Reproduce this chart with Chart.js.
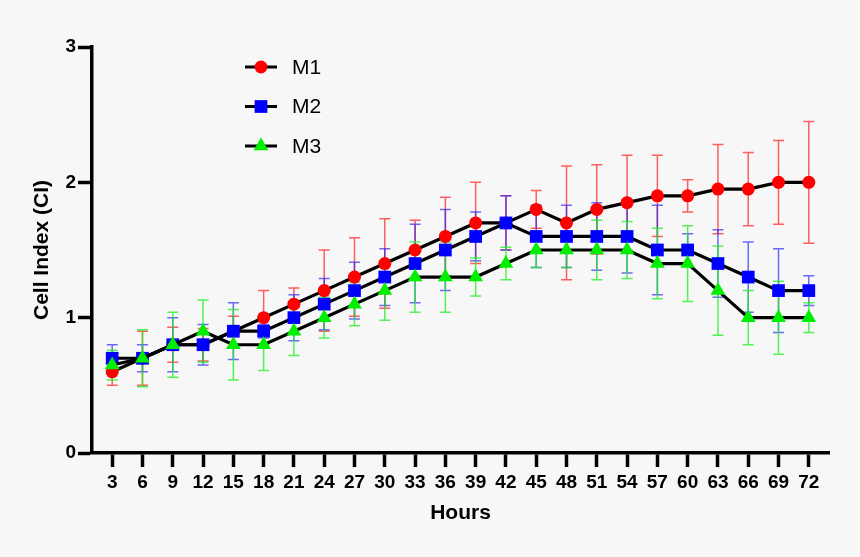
<!DOCTYPE html>
<html>
<head>
<meta charset="utf-8">
<script src="https://cdn.jsdelivr.net/npm/chart.js@4.4.1/dist/chart.umd.min.js"></script>
<style>
  html, body { margin: 0; padding: 0; background: #f7f7f7; }
  #wrap { width: 860px; height: 557px; }
</style>
</head>
<body>
<div id="wrap"><canvas id="ci-chart"></canvas></div>
<script>
// Cell index over time, three groups, mean +/- SD
const hours = [3, 6, 9, 12, 15, 18, 21, 24, 27, 30, 33, 36, 39, 42, 45, 48, 51, 54, 57, 60, 63, 66, 69, 72];

const m1Mean = [0.6, 0.7, 0.8, 0.8, 0.9, 1.0, 1.1, 1.2, 1.3, 1.4, 1.5, 1.6, 1.7, 1.7, 1.8, 1.7, 1.8, 1.85, 1.9, 1.9, 1.95, 1.95, 2.0, 2.0];
const m1Sd   = [0.1, 0.2, 0.13, 0.12, 0.11, 0.2, 0.12, 0.3, 0.29, 0.33, 0.22, 0.29, 0.3, 0.2, 0.14, 0.42, 0.33, 0.35, 0.3, 0.12, 0.33, 0.27, 0.31, 0.45];

const m2Mean = [0.7, 0.7, 0.8, 0.8, 0.9, 0.9, 1.0, 1.1, 1.2, 1.3, 1.4, 1.5, 1.6, 1.7, 1.6, 1.6, 1.6, 1.6, 1.5, 1.5, 1.4, 1.3, 1.2, 1.2];
const m2Sd   = [0.1, 0.1, 0.2, 0.15, 0.21, 0.05, 0.17, 0.19, 0.21, 0.21, 0.29, 0.3, 0.18, 0.2, 0.23, 0.23, 0.25, 0.27, 0.33, 0.12, 0.25, 0.26, 0.31, 0.11];

const m3Mean = [0.65, 0.7, 0.8, 0.9, 0.8, 0.8, 0.9, 1.0, 1.1, 1.2, 1.3, 1.3, 1.3, 1.4, 1.5, 1.5, 1.5, 1.5, 1.4, 1.4, 1.2, 1.0, 1.0, 1.0];
const m3Sd   = [0.11, 0.21, 0.24, 0.23, 0.26, 0.19, 0.18, 0.15, 0.16, 0.22, 0.26, 0.26, 0.14, 0.12, 0.13, 0.13, 0.22, 0.21, 0.26, 0.28, 0.33, 0.2, 0.27, 0.11];

const yTicks = [0, 1, 2, 3];

const FONT = "'Liberation Sans', Arial, Helvetica, sans-serif";

const groups = [
  { label: 'M1', mean: m1Mean, sd: m1Sd, color: '#ff0000', bar: 'rgba(255,30,30,0.7)',  style: 'circle',   radius: 6.5, order: 3 },
  { label: 'M2', mean: m2Mean, sd: m2Sd, color: '#0000ff', bar: 'rgba(30,30,255,0.65)', style: 'rect',     radius: 9,   order: 2 },
  { label: 'M3', mean: m3Mean, sd: m3Sd, color: '#00ee00', bar: 'rgba(30,240,30,0.75)', style: 'triangle', radius: 8.5, order: 1 },
];

// error bars, drawn under the lines and markers
const errorBars = {
  id: 'errorBars',
  beforeDatasetsDraw(chart) {
    const { ctx, scales: { x, y } } = chart;
    ctx.save();
    ctx.lineWidth = 1.5;
    groups.forEach(g => {
      ctx.strokeStyle = g.bar;
      hours.forEach((h, i) => {
        const px = x.getPixelForValue(h);
        const top = y.getPixelForValue(g.mean[i] + g.sd[i]);
        const bot = y.getPixelForValue(g.mean[i] - g.sd[i]);
        ctx.beginPath();
        ctx.moveTo(px, top); ctx.lineTo(px, bot);
        ctx.moveTo(px - 5.5, top); ctx.lineTo(px + 5.5, top);
        ctx.moveTo(px - 5.5, bot); ctx.lineTo(px + 5.5, bot);
        ctx.stroke();
      });
    });
    ctx.restore();
  },
};

function marker(ctx, style, cx, cy, r) {
  ctx.beginPath();
  if (style === 'circle') {
    ctx.arc(cx, cy, r, 0, Math.PI * 2);
  } else if (style === 'rect') {
    const s = r * Math.SQRT1_2;
    ctx.rect(cx - s, cy - s, 2 * s, 2 * s);
  } else {
    ctx.moveTo(cx, cy - r);
    ctx.lineTo(cx + r * 0.866, cy + r * 0.5);
    ctx.lineTo(cx - r * 0.866, cy + r * 0.5);
    ctx.closePath();
  }
  ctx.fill();
}

// legend in the upper-left of the plot
const lineLegend = {
  id: 'lineLegend',
  afterDraw(chart) {
    const ctx = chart.ctx;
    ctx.save();
    groups.forEach((g, i) => {
      const ly = 67 + i * 39.5;
      ctx.strokeStyle = '#000';
      ctx.lineWidth = 3;
      ctx.beginPath();
      ctx.moveTo(245, ly); ctx.lineTo(277, ly);
      ctx.stroke();
      ctx.fillStyle = g.color;
      marker(ctx, g.style, 261, ly, g.radius);
      ctx.fillStyle = '#000';
      ctx.font = `21px ${FONT}`;
      ctx.textBaseline = 'middle';
      ctx.fillText(g.label, 292, ly + 1);
    });
    ctx.restore();
  },
};

new Chart(document.getElementById('ci-chart'), {
  type: 'line',
  data: {
    datasets: groups.map(g => ({
      label: g.label,
      data: hours.map((h, i) => ({ x: h, y: g.mean[i] })),
      borderColor: '#000',
      borderWidth: 3.2,
      pointStyle: g.style,
      pointRadius: g.radius,
      pointBackgroundColor: g.color,
      pointBorderColor: g.color,
      pointBorderWidth: 0,
      tension: 0,
      order: g.order,
    })),
  },
  options: {
    responsive: true,
    maintainAspectRatio: false,
    animation: false,
    layout: { padding: { left: 0, right: 31, top: 47, bottom: 0 } },
    plugins: {
      legend: { display: false },
      tooltip: { enabled: false },
    },
    scales: {
      x: {
        type: 'linear',
        min: 1,
        max: 74,
        afterBuildTicks: s => { s.ticks = hours.map(v => ({ value: v })); },
        afterFit: s => { s.height = 104; },
        ticks: {
          color: '#000',
          padding: 4,
          maxRotation: 0,
          autoSkip: false,
          font: { family: FONT, size: 19, weight: 'bold' },
        },
        grid: { drawOnChartArea: false, tickLength: 14, tickWidth: 3.5, tickColor: '#000' },
        border: { display: true, color: '#000', width: 3.5 },
        title: {
          display: true,
          text: 'Hours',
          color: '#000',
          padding: { top: 0, bottom: 31 },
          font: { family: FONT, size: 21, weight: 'bold' },
        },
      },
      y: {
        min: 0,
        max: 3,
        afterBuildTicks: s => { s.ticks = yTicks.map(v => ({ value: v })); },
        afterFit: s => { s.width = 92; },
        ticks: {
          color: '#000',
          padding: 2,
          font: { family: FONT, size: 19, weight: 'bold' },
        },
        grid: { drawOnChartArea: false, tickLength: 14, tickWidth: 3.5, tickColor: '#000' },
        border: { display: true, color: '#000', width: 3.5 },
        title: {
          display: true,
          text: 'Cell Index (CI)',
          color: '#000',
          padding: { top: 30, bottom: 0 },
          font: { family: FONT, size: 21, weight: 'bold' },
        },
      },
    },
  },
  plugins: [errorBars, lineLegend],
});
</script>
</body>
</html>
